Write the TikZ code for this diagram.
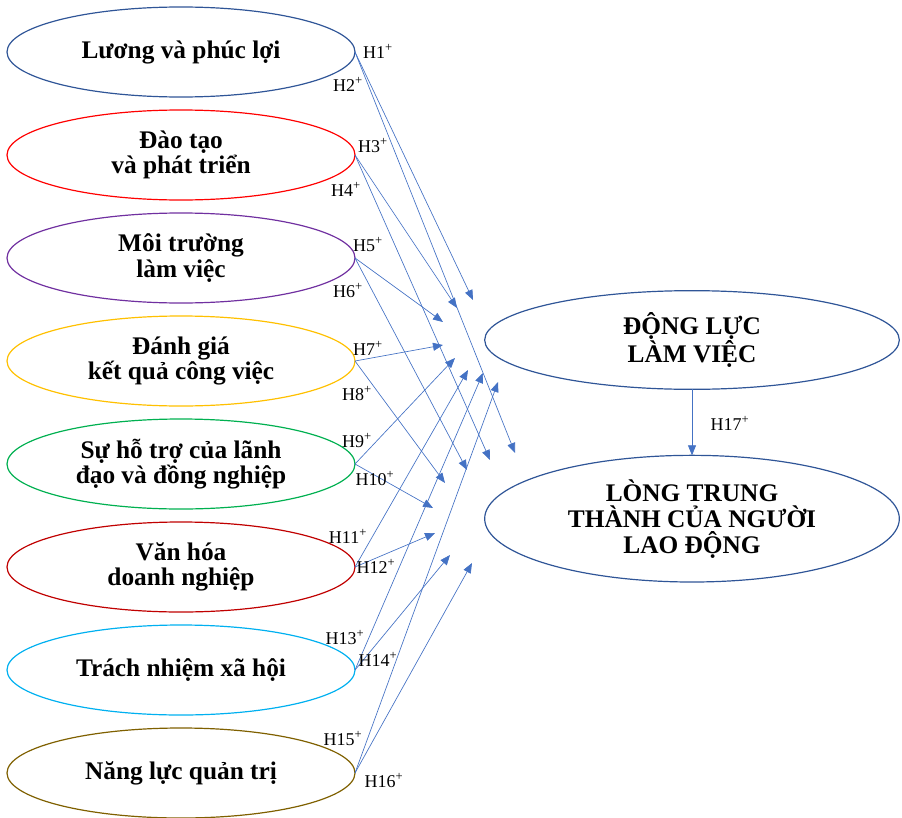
\documentclass[tikz,border=0pt]{standalone}
\usepackage{fontspec}
\setmainfont{Liberation Serif}
\usetikzlibrary{arrows.meta, positioning, shapes.geometric}
\definecolor{luongcolor}{RGB}{47,85,151}
\definecolor{daotaocolor}{RGB}{255,0,0}
\definecolor{moitruongcolor}{RGB}{112,48,160}
\definecolor{danhgiacolor}{RGB}{255,192,0}
\definecolor{hotrocolor}{RGB}{0,176,80}
\definecolor{vanhoacolor}{RGB}{192,0,0}
\definecolor{trachnhiemcolor}{RGB}{0,176,240}
\definecolor{nanglucolor}{RGB}{127,96,0}
\definecolor{outcolor}{RGB}{47,85,151}
\definecolor{arrowcolor}{RGB}{68,114,196}
\tikzset{
  factor/.style  = {ellipse, draw=#1, line width=0.9pt, minimum width=261pt,
                    minimum height=67.5pt, inner sep=0pt, outer sep=0pt, align=center,
                    font=\fontsize{19}{19}\selectfont\bfseries},
  outcome/.style = {ellipse, draw=outcolor, line width=0.9pt, minimum width=311pt,
                    inner sep=0pt, outer sep=0pt, align=center,
                    font=\fontsize{19}{19.5}\selectfont\bfseries},
  hyp/.style     = {-{Triangle[length=7.5pt,width=6pt]}, draw=arrowcolor, line width=0.5pt},
  hlab/.style    = {font=\fontsize{13.5}{15}\selectfont, inner sep=0pt},
}

\begin{document}
\begin{tikzpicture}[x=0.75pt, y=-0.75pt]
  \useasboundingbox (0,0) rectangle (902,817);
  \node[factor=luongcolor] (e1) at (181,52) {Lương và phúc lợi};
  \node[factor=daotaocolor, below=9.75pt of e1] (e2) {Đào tạo\\và phát triển};
  \node[factor=moitruongcolor, below=9.75pt of e2] (e3) {Môi trường\\làm việc};
  \node[factor=danhgiacolor, below=9.75pt of e3] (e4) {Đánh giá\\kết quả công việc};
  \node[factor=hotrocolor, below=9.75pt of e4] (e5) {Sự hỗ trợ của lãnh\\đạo và đồng nghiệp};
  \node[factor=vanhoacolor, below=9.75pt of e5] (e6) {Văn hóa\\doanh nghiệp};
  \node[factor=trachnhiemcolor, below=9.75pt of e6] (e7) {Trách nhiệm xã hội};
  \node[factor=nanglucolor, below=9.75pt of e7] (e8) {Năng lực quản trị};

  \node[outcome, minimum height=74pt] (dl) at (692,340) {ĐỘNG LỰC\\LÀM VIỆC};
  \node[outcome, minimum height=95pt, below=49.5pt of dl] (lt)
    {LÒNG TRUNG\\THÀNH CỦA NGƯỜI\\LAO ĐỘNG};

  \foreach \src/\tx/\ty [count=\i] in {e1/473/300, e1/515/453, e2/457/308, e2/490/460,
      e3/443/322, e3/467/470, e4/443/345, e4/445/483, e5/455/358, e5/433/508,
      e6/468/370, e6/435/533, e7/483/373, e7/450/555, e8/498/382, e8/472/563} {
    \coordinate (h\i) at (\tx,\ty);
    \draw[hyp] (\src.east) -- (h\i);
  }
  \foreach \lx/\ly [count=\i] in {378/51, 348/84, 373/146, 346/189, 368/245, 348/291,
      368/348, 357/394, 357/441, 375/479, 348/536, 376/566, 345/638, 378/659,
      343/739, 384/781} {
    \node[hlab] (l\i) at (\lx,\ly) {H\i\textsuperscript{+}};
  }

  \draw[hyp] (dl) -- (lt);
  \node[hlab] (l17) at (730,423) {H17\textsuperscript{+}};
\end{tikzpicture}
\end{document}
